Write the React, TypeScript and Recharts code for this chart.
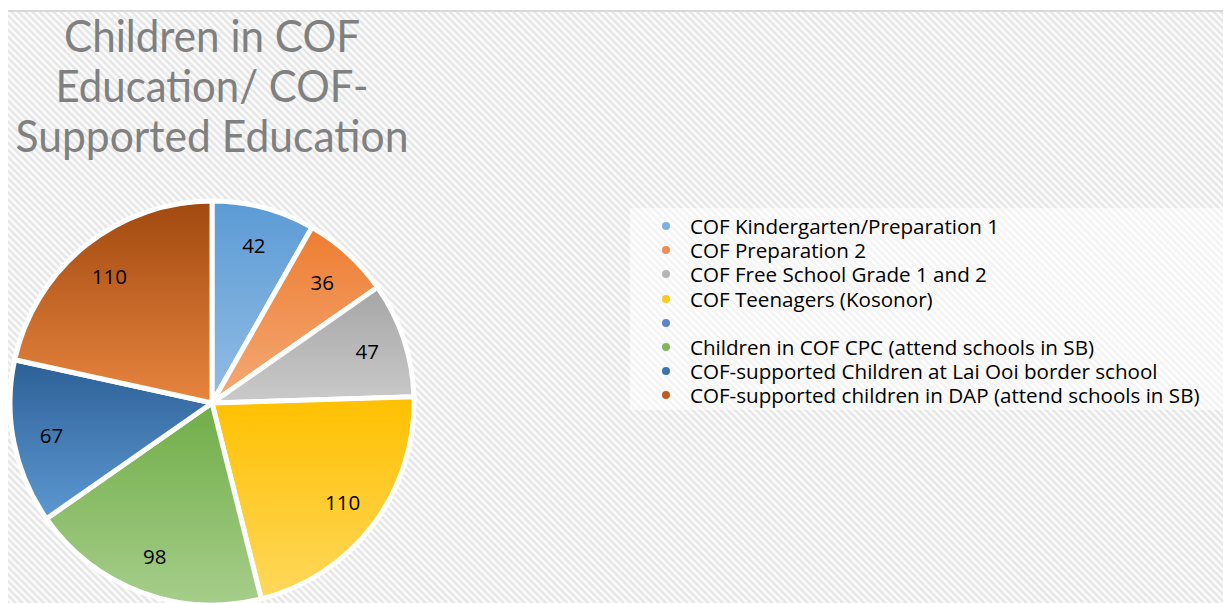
import React from 'react';
import { PieChart, Pie, Cell } from 'recharts';

const categories = [
  'COF Kindergarten/Preparation 1',
  'COF Preparation 2',
  'COF Free School Grade 1 and 2',
  'COF Teenagers (Kosonor)',
  '',
  'Children in COF CPC (attend schools in SB)',
  'COF-supported Children at Lai Ooi border school',
  'COF-supported children in DAP (attend schools in SB)',
];
const values = [42, 36, 47, 110, 0, 98, 67, 110];
const topColors = ['#5b9bd5', '#ed7d31', '#a5a5a5', '#ffc000', '#4472c4', '#70ad47', '#2c6096', '#a1490f'];
const bottomColors = ['#93bde4', '#f4aa78', '#cacaca', '#ffd85c', '#7d9fd8', '#a6ce8b', '#5d98d1', '#e8853f'];
const legendColors = ['#7db0de', '#ef8d52', '#b3b3b3', '#ffc81e', '#5b84cc', '#7db85a', '#3a73ad', '#c05c1c'];
const titleLines = ['Children in COF', 'Education/ COF-', 'Supported Education'];

const data = categories.map((name, i) => ({ name, value: values[i] }));

const RAD = Math.PI / 180;
const renderLabel = (props: any) => {
  const { cx, cy, midAngle, outerRadius, value } = props;
  if (!value) return null;
  const r = outerRadius * 0.81;
  const x = cx + r * Math.cos(-midAngle * RAD);
  const y = cy + r * Math.sin(-midAngle * RAD);
  return (
    <text x={x} y={y} textAnchor="middle" dominantBaseline="central" fill="#000" fontSize={20.5} fontFamily="'Open Sans', sans-serif">
      {value}
    </text>
  );
};

export default function App() {
  return (
    <div style={{ position: 'relative', width: 1231, height: 603, margin: '-8px 0 0 -8px', overflow: 'hidden', background: '#fff' }}>
      <div
        style={{
          position: 'absolute',
          left: 4,
          top: 10,
          right: 0,
          bottom: 0,
          borderTop: '2px solid #d9d9d9',
          borderLeft: '1px solid #d9d9d9',
          background: 'repeating-linear-gradient(45deg, #ffffff 0px, #e2e2e2 2.5px, #ffffff 5px)',
        }}
      />
      <svg width={1231} height={170} style={{ position: 'absolute', left: 0, top: 0 }}>
        {titleLines.map((t, i) => (
          <text
            key={i}
            x={212}
            y={52 + i * 50}
            textAnchor="middle"
            fill="#808080"
            fontSize={44}
            fontFamily="Lato, sans-serif"
            textLength={[296, 313, 393][i]}
            lengthAdjust="spacingAndGlyphs"
          >
            {t}
          </text>
        ))}
      </svg>
      <div
        style={{
          position: 'absolute',
          left: 630,
          top: 208,
          width: 601,
          height: 202,
          background: 'rgba(255,255,255,0.55)',
          paddingTop: 6,
          boxSizing: 'border-box',
        }}
      >
        {categories.map((name, i) => (
          <div key={i} style={{ display: 'flex', alignItems: 'center', height: 24.2 }}>
            <svg width={60} height={24} style={{ flex: 'none' }}>
              <circle cx={36} cy={12} r={4} fill={legendColors[i]} />
            </svg>
            <span
              style={{
                fontFamily: "'Open Sans', sans-serif",
                fontSize: 20.6,
                lineHeight: '24px',
                color: '#000',
                whiteSpace: 'nowrap',
              }}
            >
              {name}
            </span>
          </div>
        ))}
      </div>
      <div style={{ position: 'absolute', left: 0, top: 0 }}>
        <PieChart width={1231} height={603} margin={{ top: 0, right: 0, bottom: 0, left: 0 }}>
          <defs>
            {topColors.map((c, i) => (
              <linearGradient key={i} id={`g${i}`} x1="0" y1="0" x2="0" y2="1">
                <stop offset="0%" stopColor={c} />
                <stop offset="100%" stopColor={bottomColors[i]} />
              </linearGradient>
            ))}
          </defs>
          <Pie
            data={data}
            dataKey="value"
            nameKey="name"
            cx={212}
            cy={403}
            outerRadius={202}
            startAngle={90}
            endAngle={-270}
            stroke="#ffffff"
            strokeWidth={5}
            label={renderLabel}
            labelLine={false}
            isAnimationActive={false}
          >
            {data.map((_, i) => (
              <Cell key={i} fill={`url(#g${i})`} />
            ))}
          </Pie>
        </PieChart>
      </div>
    </div>
  );
}
